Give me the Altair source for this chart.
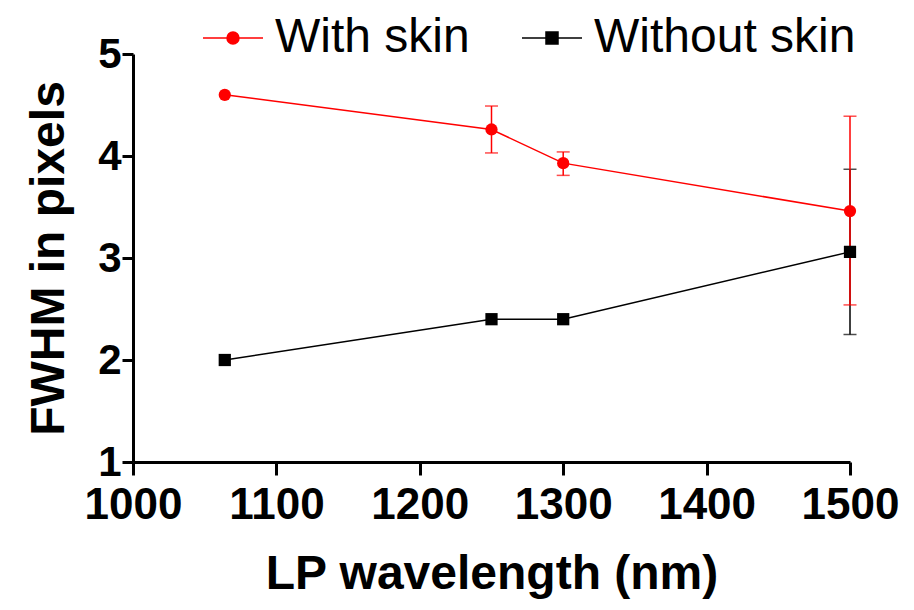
import altair as alt
import pandas as pd

series_names = ["With skin", "Without skin"]
series_colors = ["#ff0000", "#000000"]

wavelength = [1064, 1250, 1300, 1500]

with_skin = [4.60, 4.26, 3.93, 3.46]
with_skin_lo = [None, 4.03, 3.81, 2.54]
with_skin_hi = [None, 4.49, 4.04, 4.39]

without_skin = [2.00, 2.40, 2.40, 3.06]
without_skin_lo = [None, None, None, 2.25]
without_skin_hi = [None, None, None, 3.87]

x_ticks = [1000, 1100, 1200, 1300, 1400, 1500]
y_ticks = [1, 2, 3, 4, 5]

rows = []
for name, ys, los, his in [
    ("With skin", with_skin, with_skin_lo, with_skin_hi),
    ("Without skin", without_skin, without_skin_lo, without_skin_hi),
]:
    for w, y, lo, hi in zip(wavelength, ys, los, his):
        rows.append({"series": name, "wl": w, "fwhm": y, "lo": lo, "hi": hi})
df = pd.DataFrame(rows)
legend_df = pd.DataFrame({"series": series_names})

FONT = "Liberation Sans"

x_scale = alt.Scale(domain=[1000, 1500], nice=False, zero=False)
y_scale = alt.Scale(domain=[1, 5], nice=False, zero=False)

x_axis = alt.Axis(
    values=x_ticks,
    format="d",
    title="LP wavelength (nm)",
    labelFontSize=44,
    labelFontWeight="bold",
    labelFont=FONT,
    labelPadding=8,
    tickSize=13,
    tickWidth=3,
    domainWidth=3,
    tickColor="black",
    domainColor="black",
    labelColor="black",
    titleColor="black",
    titleFont=FONT,
    titleFontSize=48,
    titleFontWeight="bold",
    titlePadding=23,
    grid=False,
    labelFlush=False,
)

y_axis = alt.Axis(
    values=y_ticks,
    format="d",
    title="FWHM in pixels",
    labelFontSize=42,
    labelFontWeight="bold",
    labelFont=FONT,
    labelPadding=1,
    tickSize=11,
    tickWidth=3,
    domainWidth=3,
    tickColor="black",
    domainColor="black",
    labelColor="black",
    titleColor="black",
    titleFont=FONT,
    titleFontSize=48,
    titleFontWeight="bold",
    titlePadding=24,
    grid=False,
    labelFlush=False,
)

base = alt.Chart(df)
layers = []

# error bars: black first so the red one lies on top
for name, col in [("Without skin", "#000000"), ("With skin", "#ff0000")]:
    err = base.transform_filter(alt.datum.series == name).transform_filter("isValid(datum.lo)")
    layers.append(
        err.mark_rule(strokeWidth=1.5, color=col).encode(
            x=alt.X("wl:Q", scale=x_scale, axis=x_axis),
            y=alt.Y("lo:Q", scale=y_scale, axis=y_axis),
            y2="hi:Q",
        )
    )
    for fld in ["lo", "hi"]:
        layers.append(
            err.mark_tick(orient="horizontal", size=13, thickness=1.5, color=col).encode(
                x=alt.X("wl:Q", scale=x_scale),
                y=alt.Y(f"{fld}:Q", scale=y_scale),
            )
        )

# connecting lines
for name, col in [("With skin", "#ff0000"), ("Without skin", "#000000")]:
    layers.append(
        base.transform_filter(alt.datum.series == name).mark_line(strokeWidth=1.5, color=col).encode(
            x=alt.X("wl:Q", scale=x_scale),
            y=alt.Y("fwhm:Q", scale=y_scale),
        )
    )

# markers
layers.append(
    base.transform_filter(alt.datum.series == "With skin").mark_point(
        shape="circle", filled=True, size=150, opacity=1, color="#ff0000"
    ).encode(x=alt.X("wl:Q", scale=x_scale), y=alt.Y("fwhm:Q", scale=y_scale))
)
layers.append(
    base.transform_filter(alt.datum.series == "Without skin").mark_point(
        shape="square", filled=True, size=150, opacity=1, color="#000000"
    ).encode(x=alt.X("wl:Q", scale=x_scale), y=alt.Y("fwhm:Q", scale=y_scale))
)

# legend symbols: a line segment with the marker on it
circle_path = "M-1,0H1M-0.2,0A0.2,0.2 0 1,0 0.2,0A0.2,0.2 0 1,0 -0.2,0Z"
square_path = "M-1,0H1M-0.2,-0.2H0.2V0.2H-0.2Z"

legend_props = dict(
    title=None,
    orient="none",
    direction="horizontal",
    legendX=69,
    legendY=-47,
    symbolSize=3600,
    symbolStrokeWidth=1.5,
    symbolOpacity=1,
    labelFont=FONT,
    labelFontSize=48,
    labelColor="black",
    labelLimit=500,
    labelOffset=11,
    columnPadding=49,
)

layers.append(
    alt.Chart(legend_df).transform_filter("false").mark_point(
        filled=True, opacity=1, strokeWidth=1.5, size=3600
    ).encode(
        fill=alt.Fill("series:N", scale=alt.Scale(domain=series_names, range=series_colors),
                      legend=alt.Legend(**legend_props)),
        stroke=alt.Stroke("series:N", scale=alt.Scale(domain=series_names, range=series_colors),
                          legend=alt.Legend(**legend_props)),
        shape=alt.Shape("series:N", scale=alt.Scale(domain=series_names, range=[circle_path, square_path]),
                        legend=alt.Legend(**legend_props)),
    )
)

chart = alt.layer(*layers).properties(
    width=717,
    height=408,
    background="white",
    autosize=alt.AutoSizeParams(type="none"),
    padding={"left": 125, "top": 46, "right": 50, "bottom": 144},
).configure_view(strokeWidth=0, stroke=None)

chart.save("out.html", embed_options={"renderer": "svg", "actions": False})
